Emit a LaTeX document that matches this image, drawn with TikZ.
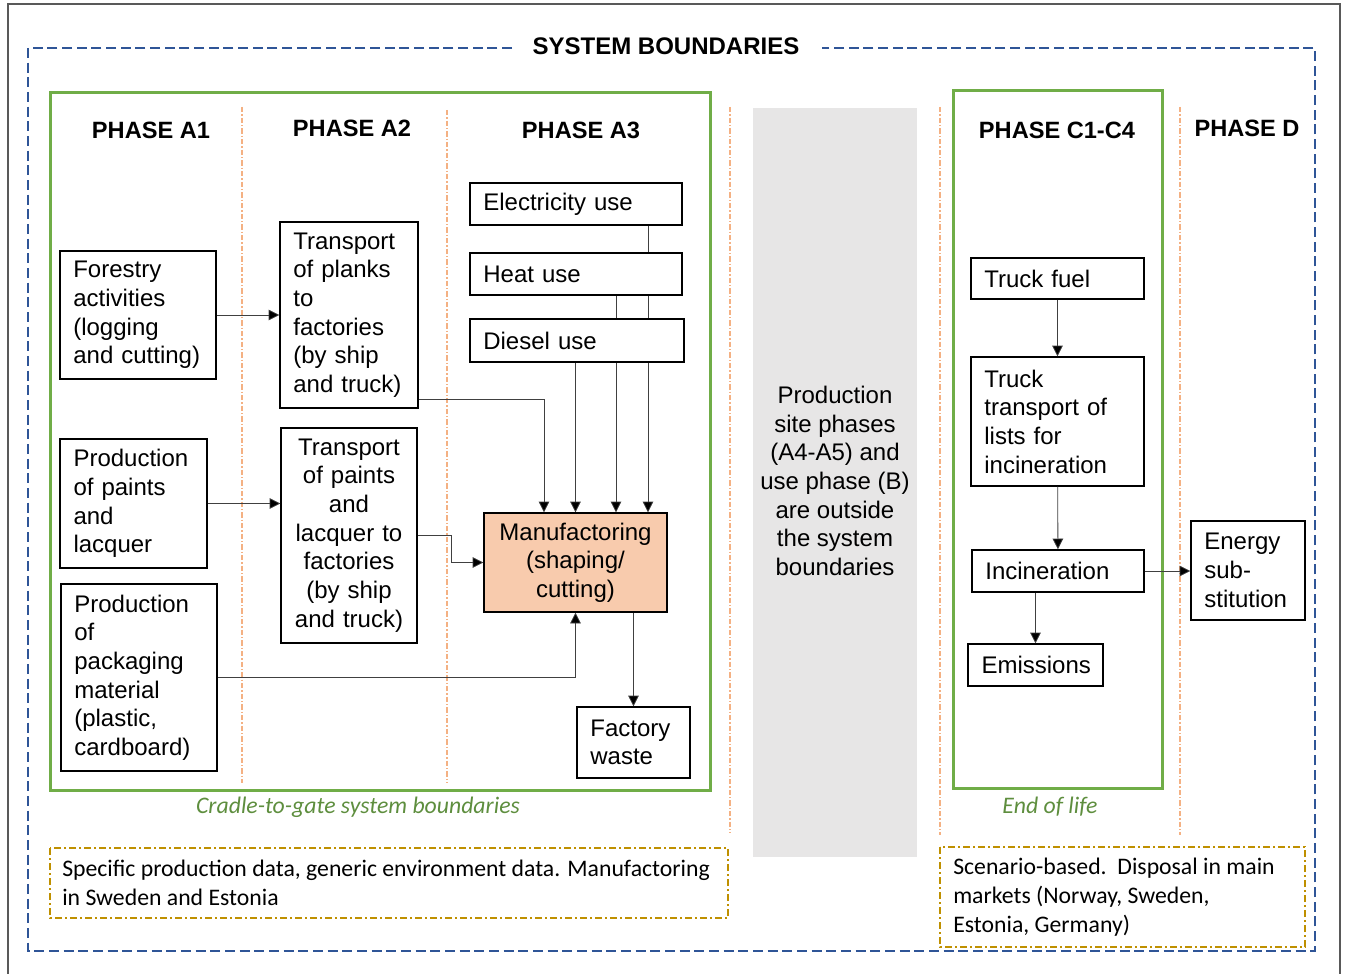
\documentclass[tikz,border=0pt]{standalone}
\usepackage{fontspec}
\setmainfont{Liberation Sans}
\newfontfamily\calibfont{Carlito}
\usetikzlibrary{arrows.meta,backgrounds,calc}
\definecolor{boundblue}{HTML}{2F5597}
\definecolor{phasegreen}{HTML}{70AD47}
\definecolor{labelgreen}{HTML}{5E8E3E}
\definecolor{phaseorange}{HTML}{F4B183}
\definecolor{notegold}{HTML}{BF9000}
\definecolor{manufpeach}{HTML}{F8CBAD}
\definecolor{outsidegray}{HTML}{E7E6E6}
\definecolor{framegray}{HTML}{595959}

\begin{document}
\begin{tikzpicture}[x=0.75pt,y=-0.75pt,
    procbox/.style={draw=black,line width=1.1pt,fill=white,inner xsep=10pt,inner ysep=0pt,align=left,font=\fontsize{18}{21.5}\selectfont},
    phaselabel/.style={font=\bfseries\fontsize{17.7}{21}\selectfont},
    flow/.style={-{Triangle[width=8pt,length=8pt,fill=black]},line width=0.6pt,draw=black!75},
    phaseline/.style={draw=phaseorange,line width=0.8pt,dash pattern=on 4pt off 1.5pt on 1pt off 1.5pt},
    notebox/.style={draw=notegold,line width=1.1pt,dash pattern=on 5.25pt off 2.25pt on 1.5pt off 2.25pt},
    notetext/.style={font=\calibfont\fontsize{17.8}{21.75}\selectfont,align=left,inner sep=0pt},
    greenlabel/.style={text=labelgreen,font=\calibfont\itshape\fontsize{17.8}{21.75}\selectfont}]

    \useasboundingbox (0,0) rectangle (1346,974);

    % frames
    \draw[framegray,line width=1.5pt] (8,990) -- (8,4) -- (1340,4) -- (1340,990);
    \draw[boundblue,line width=1.1pt,dash pattern=on 7.5pt off 3.5pt]
        (512,48) -- (28,48) -- (28,951) -- (1315,951) -- (1315,48) -- (822,48);
    \node[font=\bfseries\fontsize{18}{21}\selectfont] (title) at (666,46) {SYSTEM BOUNDARIES};

    \fill[outsidegray] (753,108) rectangle (917,857);
    \node[align=center,font=\fontsize{18}{21.5}\selectfont] (outside) at (835,481)
        {Production\\site phases\\(A4-A5) and\\use phase (B)\\are outside\\the system\\boundaries};

    \draw[phasegreen,line width=2.25pt] (50,93) rectangle (710,790);
    \draw[phasegreen,line width=2.25pt] (953,91) rectangle (1162,788);

    \draw[phaseline] (242,107) -- (242,783);
    \draw[phaseline] (447,110) -- (447,783);
    \draw[phaseline] (730,107) -- (730,833);
    \draw[phaseline] (940,107) -- (940,835);
    \draw[phaseline] (1180,107) -- (1180,835);

    % phase titles
    \node[phaselabel] (phA1) at (151,130) {PHASE A1};
    \node[phaselabel] (phA2) at (352,128) {PHASE A2};
    \node[phaselabel] (phA3) at (581,130) {PHASE A3};
    \node[phaselabel] (phC) at (1057,130) {PHASE C1-C4};
    \node[phaselabel] (phD) at (1247,128) {PHASE D};

    % cradle to gate
    \node[procbox,text width=97pt,minimum height=96pt] (forestry) at (138,315)
        {Forestry\\activities\\(logging\\and cutting)};
    \node[procbox,text width=83.5pt,minimum height=139.5pt] (planks) at (349,315)
        {Transport\\of planks\\to\\factories\\(by ship\\and truck)};
    \node[procbox,text width=90pt,minimum height=96.75pt] (paints) at (133.5,503.5)
        {Production\\of paints\\and\\lacquer};
    \node[procbox,align=center,inner xsep=5pt,text width=92pt,minimum height=161.25pt] (trpaints) at (349,535.5)
        {Transport\\of paints\\and\\lacquer to\\factories\\(by ship\\and truck)};
    \node[procbox,text width=97pt,minimum height=140.25pt] (packaging) at (139,677.5)
        {Production\\of\\packaging\\material\\(plastic,\\cardboard)};
    \node[procbox,text width=139pt,minimum height=31.5pt] (elec) at (576,204) {Electricity use};
    \node[procbox,text width=139pt,minimum height=31.5pt] (heat) at (576,274) {Heat use};
    \node[procbox,text width=140.5pt,minimum height=32.25pt] (diesel) at (577,340.5) {Diesel use};
    \node[procbox,fill=manufpeach,align=center,inner xsep=5pt,text width=127.25pt,minimum height=74.25pt] (manuf) at (575.5,562.5)
        {Manufactoring\\(shaping/\\cutting)};
    \node[procbox,text width=64.75pt,minimum height=53.25pt] (waste) at (633.5,742.5) {Factory\\waste};

    % end of life
    \node[procbox,text width=109.75pt,minimum height=30.75pt] (fuel) at (1057.5,278.5) {Truck fuel};
    \node[procbox,text width=109.75pt,minimum height=96.75pt] (trtrans) at (1057.5,421.5)
        {Truck\\transport of\\lists for\\incineration};
    \node[procbox,text width=109pt,minimum height=31.5pt] (incin) at (1058,571) {Incineration};
    \node[procbox,align=center,text width=81pt,minimum height=31.5pt] (emis) at (1035.5,665) {Emissions};
    \node[procbox,text width=65.5pt,minimum height=74.25pt] (energy) at (1248,570.5) {Energy\\sub-\\stitution};

    % flows
    \draw[flow] (forestry) -- (planks);
    \draw[flow] (paints.east) -- (paints.east -| trpaints.west);
    \draw[flow] (planks.east |- 0,399) -| (manuf.north -| 544,0);
    \draw[flow] (trpaints.east) -- ++(34,0) |- (manuf.west);
    \draw[flow] (packaging.east) -| (manuf.south);
    \draw[flow] (manuf.south -| waste.north) -- (waste.north);
    \begin{scope}[on background layer]
        \draw[flow] (elec.south -| 648,0) -- (manuf.north -| 648,0);
        \draw[flow] (heat.south -| 616,0) -- (manuf.north -| 616,0);
        \draw[flow] (diesel.south -| manuf.north) -- (manuf.north);
    \end{scope}
    \draw[flow] (fuel) -- (trtrans);
    \draw[flow] (trtrans) -- (incin);
    \draw[flow] (incin.south -| emis.north) -- (emis.north);
    \draw[flow] (incin.east) -- (incin.east -| energy.west);

    % labels and notes
    \node[greenlabel] (cradle) at (358,807) {Cradle-to-gate system boundaries};
    \node[greenlabel] (eol) at (1050,807) {End of life};

    \draw[notebox] (50,848) rectangle (728,918);
    \node[notetext,anchor=west] (noteA) at (62,882.5)
        {Specific production data, generic environment data. Manufactoring\\in Sweden and Estonia};
    \draw[notebox] (940,847) rectangle (1305,947);
    \node[notetext,anchor=west] (noteC) at (953,897)
        {Scenario-based.\ \ Disposal in main\\markets (Norway, Sweden,\\Estonia, Germany)};
\end{tikzpicture}
\end{document}
